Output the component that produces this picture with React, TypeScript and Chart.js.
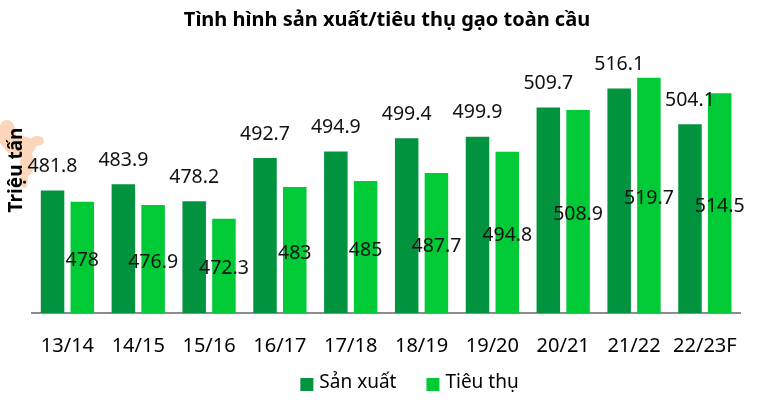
import React, { useEffect, useRef } from "react";
import { Chart, registerables } from "chart.js";

Chart.register(...registerables);

const categories = ["13/14", "14/15", "15/16", "16/17", "17/18", "18/19", "19/20", "20/21", "21/22", "22/23F"];
const sanXuat = [481.8, 483.9, 478.2, 492.7, 494.9, 499.4, 499.9, 509.7, 516.1, 504.1];
const tieuThu = [478, 476.9, 472.3, 483, 485, 487.7, 494.8, 508.9, 519.7, 514.5];
const seriesNames = ["Sản xuất", "Tiêu thụ"];
const titleText = "Tình hình sản xuất/tiêu thụ gạo toàn cầu";
const yTitle = "Triệu tấn";

const DARK = "#02933F";
const LIGHT = "#00CA36";
const FONT = "'Noto Sans', 'Open Sans', sans-serif";

const decor = {
  id: "decor",
  beforeDraw(chart: any) {
    const ctx = chart.ctx;
    ctx.save();
    ctx.fillStyle = "#FBD6BA";
    const blobs = [
      [7, 134, 9, 14],
      [20, 146, 16, 10],
      [37, 141, 7, 5],
      [27, 163, 7, 13],
      [24, 180, 4, 8],
    ];
    blobs.forEach(([x, y, rx, ry]) => {
      ctx.beginPath();
      ctx.ellipse(x, y, rx, ry, 0, 0, Math.PI * 2);
      ctx.fill();
    });
    ctx.restore();
  },
  afterDraw(chart: any) {
    const ctx = chart.ctx;
    ctx.save();
    // y-axis title
    ctx.translate(17, 170);
    ctx.rotate(-Math.PI / 2);
    ctx.font = `bold 19px ${FONT}`;
    ctx.fillStyle = "#000";
    ctx.textAlign = "center";
    ctx.textBaseline = "middle";
    ctx.fillText(yTitle, 0, 0);
    ctx.restore();

    // legend
    ctx.save();
    ctx.font = `19px ${FONT}`;
    ctx.textBaseline = "middle";
    ctx.textAlign = "left";
    const box = 13;
    const gapBoxText = 6;
    const gapItems = 30;
    const items = chart.data.datasets.map((d: any) => ({ label: d.label, color: d.backgroundColor }));
    const widths = items.map((it: any) => box + gapBoxText + ctx.measureText(it.label).width);
    const total = widths.reduce((a: number, b: number) => a + b, 0) + gapItems * (items.length - 1);
    let x = 409.5 - total / 2;
    const cy = 384;
    items.forEach((it: any, i: number) => {
      ctx.fillStyle = it.color;
      ctx.fillRect(x, cy - box / 2 + 0.5, box, box);
      ctx.fillStyle = "#000";
      ctx.fillText(it.label, x + box + gapBoxText, cy - 1);
      x += widths[i] + gapItems;
    });
    ctx.restore();
  },
};

const valueLabels = {
  id: "valueLabels",
  afterDatasetsDraw(chart: any) {
    const ctx = chart.ctx;
    const yScale = chart.scales.y;
    const basePx = yScale.getPixelForValue(yScale.min);
    ctx.save();
    ctx.font = `19.5px ${FONT}`;
    ctx.fillStyle = "#111";
    ctx.textAlign = "center";
    ctx.textBaseline = "middle";
    chart.data.datasets.forEach((ds: any, di: number) => {
      const meta = chart.getDatasetMeta(di);
      meta.data.forEach((bar: any, i: number) => {
        const x = bar.x;
        const y = bar.y;
        const txt = String(ds.data[i]);
        if (di === 0) {
          ctx.fillText(txt, x, y - 24);
        } else {
          ctx.fillText(txt, x, (y + basePx) / 2 + 3);
        }
      });
    });
    ctx.restore();
  },
};

export default function App() {
  const ref = useRef<HTMLCanvasElement>(null);
  useEffect(() => {
    if (!ref.current) return;
    const chart = new Chart(ref.current, {
      type: "bar",
      data: {
        labels: categories,
        datasets: [
          { label: seriesNames[0], data: sanXuat, backgroundColor: DARK, categoryPercentage: 0.84, barPercentage: 0.79 },
          { label: seriesNames[1], data: tieuThu, backgroundColor: LIGHT, categoryPercentage: 0.84, barPercentage: 0.79 },
        ],
      },
      options: {
        animation: false,
        responsive: false,
        maintainAspectRatio: false,
        layout: { padding: { left: 32, right: 17, top: 0, bottom: 43 } },
        plugins: {
          title: {
            display: true,
            text: titleText,
            color: "#000",
            font: { family: FONT, size: 20, weight: "bold" },
            padding: { top: 8, bottom: 30 },
          },
          legend: { display: false },
          tooltip: { enabled: false },
        },
        scales: {
          x: {
            grid: { display: false, drawTicks: false },
            border: { display: true, color: "#8c8c8c", width: 2 },
            ticks: { color: "#000", font: { family: FONT, size: 20 }, padding: 21.5, maxRotation: 0 },
            afterFit: (scale: any) => {
              scale.height = 46;
            },
          },
          y: {
            display: false,
            min: 440.6,
            max: 525,
          },
        },
      },
      plugins: [decor, valueLabels],
    });
    return () => chart.destroy();
  }, []);
  return (
    <div style={{ position: "absolute", left: 0, top: 0, width: 759, height: 402, background: "#fff" }}>
      <canvas ref={ref} width={759} height={402} style={{ width: 759, height: 402 }} />
    </div>
  );
}
